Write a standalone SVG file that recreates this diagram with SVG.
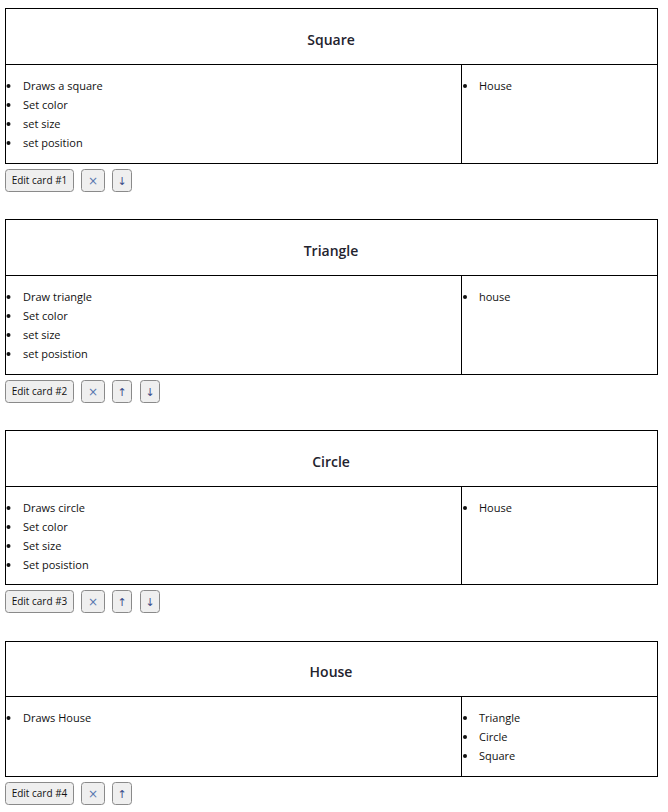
<svg xmlns="http://www.w3.org/2000/svg" width="668" height="812" viewBox="0 0 668 812">
<style>
.card{fill:#fff;stroke:#000;stroke-width:1}
.ln{stroke:#000;stroke-width:1}
.title{font-family:"Open Sans","Liberation Sans",sans-serif;font-size:14px;font-weight:600;fill:#23232e;text-anchor:middle}
.item{font-family:"Open Sans","Liberation Sans",sans-serif;font-size:11px;fill:#111}
.dot{fill:#111}
.btn{fill:#efefef;stroke:#8a8a8a;stroke-width:1}
.btxt{font-family:"Open Sans","Liberation Sans",sans-serif;font-size:10px;fill:#111;text-anchor:middle}
.x{font-family:"DejaVu Sans","Liberation Sans",sans-serif;font-size:12px;fill:#5a78b0;text-anchor:middle}
.arr{font-family:"DejaVu Sans","Liberation Sans",sans-serif;font-size:11px;fill:#3b4f8a;text-anchor:middle}
</style>
<rect width="668" height="812" fill="#fff"/>
<g id="connectors"></g>

<g id="card1">
<rect class="card" x="5.5" y="8.5" width="652" height="155"/>
<line class="ln" x1="5.5" y1="64.5" x2="657.5" y2="64.5"/>
<line class="ln" x1="461.5" y1="64.5" x2="461.5" y2="163.5"/>
<text class="title" x="331" y="45">Square</text>
<circle class="dot" cx="8.5" cy="86" r="2"/><text class="item" x="23" y="90">Draws a square</text>
<circle class="dot" cx="8.5" cy="105" r="2"/><text class="item" x="23" y="109">Set color</text>
<circle class="dot" cx="8.5" cy="124" r="2"/><text class="item" x="23" y="128">set size</text>
<circle class="dot" cx="8.5" cy="143" r="2"/><text class="item" x="23" y="147">set position</text>
<circle class="dot" cx="465" cy="86" r="2"/><text class="item" x="479" y="90">House</text>
<rect class="btn" x="5.5" y="169.5" width="68" height="22" rx="3"/><text class="btxt" x="39.5" y="184">Edit card #1</text>
<rect class="btn" x="81.5" y="169.5" width="23" height="22" rx="3"/><text class="x" x="93" y="185">×</text>
<rect class="btn" x="112.5" y="169.5" width="19" height="22" rx="3"/><text class="arr" x="122" y="185">↓</text>
</g>

<g id="card2">
<rect class="card" x="5.5" y="219.5" width="652" height="155"/>
<line class="ln" x1="5.5" y1="275.5" x2="657.5" y2="275.5"/>
<line class="ln" x1="461.5" y1="275.5" x2="461.5" y2="374.5"/>
<text class="title" x="331" y="256">Triangle</text>
<circle class="dot" cx="8.5" cy="297" r="2"/><text class="item" x="23" y="301">Draw triangle</text>
<circle class="dot" cx="8.5" cy="316" r="2"/><text class="item" x="23" y="320">Set color</text>
<circle class="dot" cx="8.5" cy="335" r="2"/><text class="item" x="23" y="339">set size</text>
<circle class="dot" cx="8.5" cy="354" r="2"/><text class="item" x="23" y="358">set posistion</text>
<circle class="dot" cx="465" cy="297" r="2"/><text class="item" x="479" y="301">house</text>
<rect class="btn" x="5.5" y="380.5" width="68" height="22" rx="3"/><text class="btxt" x="39.5" y="395">Edit card #2</text>
<rect class="btn" x="81.5" y="380.5" width="23" height="22" rx="3"/><text class="x" x="93" y="396">×</text>
<rect class="btn" x="112.5" y="380.5" width="19" height="22" rx="3"/><text class="arr" x="122" y="396">↑</text>
<rect class="btn" x="140.5" y="380.5" width="19" height="22" rx="3"/><text class="arr" x="150" y="396">↓</text>
</g>

<g id="card3">
<rect class="card" x="5.5" y="430.5" width="652" height="154"/>
<line class="ln" x1="5.5" y1="486.5" x2="657.5" y2="486.5"/>
<line class="ln" x1="461.5" y1="486.5" x2="461.5" y2="584.5"/>
<text class="title" x="331" y="467">Circle</text>
<circle class="dot" cx="8.5" cy="508" r="2"/><text class="item" x="23" y="512">Draws circle</text>
<circle class="dot" cx="8.5" cy="527" r="2"/><text class="item" x="23" y="531">Set color</text>
<circle class="dot" cx="8.5" cy="546" r="2"/><text class="item" x="23" y="550">Set size</text>
<circle class="dot" cx="8.5" cy="565" r="2"/><text class="item" x="23" y="569">Set posistion</text>
<circle class="dot" cx="465" cy="508" r="2"/><text class="item" x="479" y="512">House</text>
<rect class="btn" x="5.5" y="590.5" width="68" height="22" rx="3"/><text class="btxt" x="39.5" y="605">Edit card #3</text>
<rect class="btn" x="81.5" y="590.5" width="23" height="22" rx="3"/><text class="x" x="93" y="606">×</text>
<rect class="btn" x="112.5" y="590.5" width="19" height="22" rx="3"/><text class="arr" x="122" y="606">↑</text>
<rect class="btn" x="140.5" y="590.5" width="19" height="22" rx="3"/><text class="arr" x="150" y="606">↓</text>
</g>

<g id="card4">
<rect class="card" x="5.5" y="641.5" width="652" height="135"/>
<line class="ln" x1="5.5" y1="696.5" x2="657.5" y2="696.5"/>
<line class="ln" x1="461.5" y1="696.5" x2="461.5" y2="776.5"/>
<text class="title" x="331" y="677">House</text>
<circle class="dot" cx="8.5" cy="718" r="2"/><text class="item" x="23" y="722">Draws House</text>
<circle class="dot" cx="465" cy="718" r="2"/><text class="item" x="479" y="722">Triangle</text>
<circle class="dot" cx="465" cy="737" r="2"/><text class="item" x="479" y="741">Circle</text>
<circle class="dot" cx="465" cy="756" r="2"/><text class="item" x="479" y="760">Square</text>
<rect class="btn" x="5.5" y="782.5" width="68" height="22" rx="3"/><text class="btxt" x="39.5" y="797">Edit card #4</text>
<rect class="btn" x="81.5" y="782.5" width="23" height="22" rx="3"/><text class="x" x="93" y="798">×</text>
<rect class="btn" x="112.5" y="782.5" width="19" height="22" rx="3"/><text class="arr" x="122" y="798">↑</text>
</g>
</svg>
